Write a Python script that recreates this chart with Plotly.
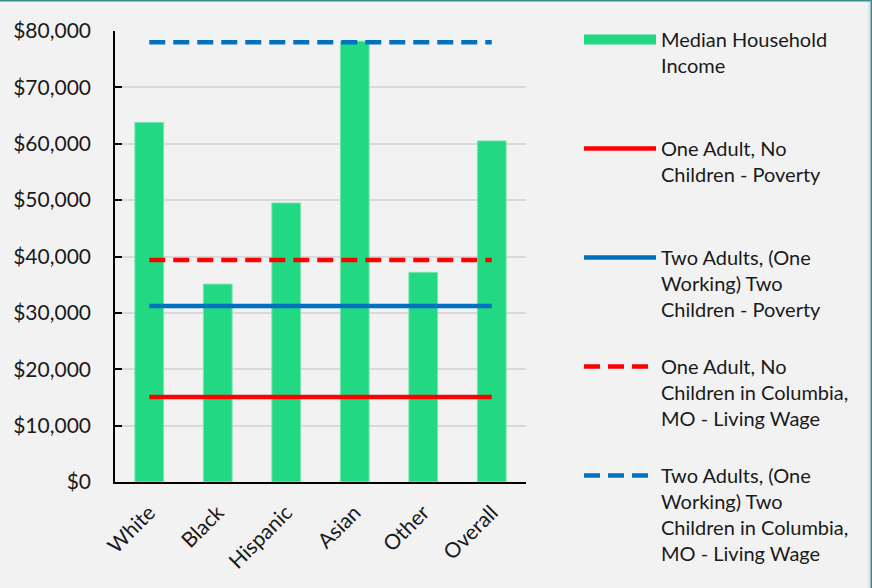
import plotly.graph_objects as go

# Median household income by group, with poverty and living-wage thresholds
groups = ["White", "Black", "Hispanic", "Asian", "Other", "Overall"]
median_income = [63800, 35100, 49500, 78200, 37200, 60500]

poverty_one_adult = [15060, 15060, 15060, 15060, 15060, 15060]
poverty_two_adults = [31200, 31200, 31200, 31200, 31200, 31200]
living_wage_one_adult = [39400, 39400, 39400, 39400, 39400, 39400]
living_wage_two_adults = [78000, 78000, 78000, 78000, 78000, 78000]

y_ticks = [0, 10000, 20000, 30000, 40000, 50000, 60000, 70000, 80000]
y_tick_labels = ["$0", "$10,000", "$20,000", "$30,000", "$40,000",
                 "$50,000", "$60,000", "$70,000", "$80,000"]

W, H = 872, 588
ML, MR, MT, MB = 115, 346, 31, 106
PW, PH = W - ML - MR, H - MT - MB

GREEN = "#22D883"
RED = "#FF0000"
BLUE = "#0070C0"
BG = "#F2F2F2"
FONT = dict(family="Lato, 'Open Sans', sans-serif", size=20, color="#1A1A1A")
TICK_FONT = dict(family="Lato, 'Open Sans', sans-serif", size=21, color="#1A1A1A")

fig = go.Figure()

fig.add_trace(go.Bar(
    x=groups, y=median_income, width=0.42,
    marker=dict(color=GREEN, line=dict(color="#7EE6B3", width=1)),
    showlegend=False, name="Median Household Income",
))

# legend swatch for the bars (wide block like the line symbols)
fig.add_trace(go.Scatter(
    x=[None], y=[None], mode="lines",
    line=dict(color=GREEN, width=13),
    name="Median Household<br>Income<br> <br> ",
    legendgroup="g0",
))

series = [
    (poverty_one_adult, RED, "solid", "One Adult, No<br>Children - Poverty<br> <br> "),
    (poverty_two_adults, BLUE, "solid", "Two Adults, (One<br>Working) Two<br>Children - Poverty<br> "),
    (living_wage_one_adult, RED, "16px,8px", "One Adult, No<br>Children in Columbia,<br>MO - Living Wage<br> "),
    (living_wage_two_adults, BLUE, "16px,8px", "Two Adults, (One<br>Working) Two<br>Children in Columbia,<br>MO - Living Wage"),
]
for i, (vals, color, dash, label) in enumerate(series, start=1):
    fig.add_trace(go.Scatter(
        x=groups, y=vals, mode="lines",
        line=dict(color=color, width=4.5, dash=dash),
        name=label, legendgroup=f"g{i}",
    ))

fig.update_layout(
    width=W, height=H,
    margin=dict(l=ML, r=MR, t=MT, b=MB, pad=0),
    paper_bgcolor=BG, plot_bgcolor=BG,
    font=FONT,
    legend=dict(
        xref="container", yref="container",
        x=579 / W, y=1 - 20 / H, xanchor="left", yanchor="top",
        bgcolor="rgba(0,0,0,0)", borderwidth=0,
        itemwidth=72, valign="top", maxheight=1,
        font=FONT, traceorder="grouped", tracegroupgap=2,
        itemclick=False, itemdoubleclick=False,
    ),
    xaxis=dict(
        showgrid=False, showline=True, linecolor="#000000", linewidth=2,
        ticks="", tickangle=-45, tickfont=TICK_FONT, ticklabelstandoff=8,
    ),
    yaxis=dict(
        range=[0, 80000], tickvals=y_ticks, ticktext=y_tick_labels,
        showgrid=True, gridcolor="#D9D9D9", gridwidth=1.5,
        showline=True, linecolor="#000000", linewidth=1.5,
        ticks="inside", ticklen=7, tickcolor="#000000", tickwidth=1.5,
        ticklabelstandoff=18, tickfont=TICK_FONT, zeroline=False,
    ),
    shapes=[
        # frame accents along the top and right edges
        dict(type="line", xref="paper", yref="paper",
             x0=-ML / PW, x1=(W - ML) / PW, y0=(H - MB - 0.75) / PH, y1=(H - MB - 0.75) / PH,
             line=dict(color="#3A8C8C", width=1.5)),
        dict(type="line", xref="paper", yref="paper",
             x0=(W - ML - 0.75) / PW, x1=(W - ML - 0.75) / PW, y0=-MB / PH, y1=(H - MB) / PH,
             line=dict(color="#3A8C8C", width=1.5)),
        dict(type="line", xref="paper", yref="paper",
             x0=(W - ML - 3) / PW, x1=(W - ML - 3) / PW, y0=-MB / PH, y1=(H - MB - 2) / PH,
             line=dict(color="#D4D4D4", width=1)),
    ],
)

fig.write_html("out.html")
